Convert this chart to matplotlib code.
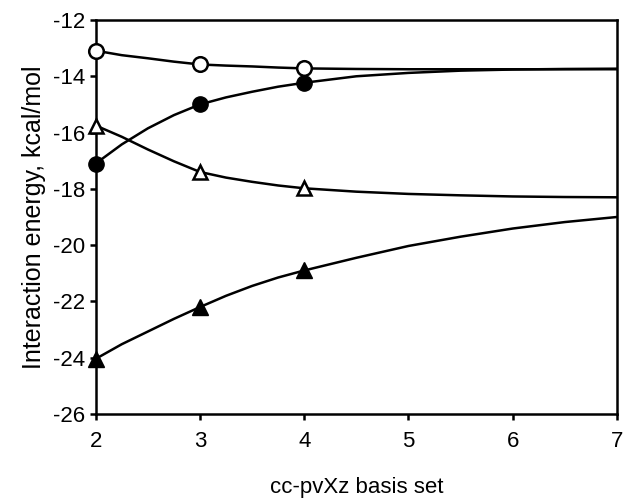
import matplotlib
matplotlib.use("Agg")
import matplotlib.pyplot as plt

plt.rcParams['font.family'] = ['Liberation Sans', 'DejaVu Sans']
plt.rcParams['axes.unicode_minus'] = False

# computed basis sets (cardinal number X)
basis_x = [2, 3, 4]
open_circle = [-13.09, -13.58, -13.72]
filled_circle = [-17.1, -15.0, -14.23]
open_triangle = [-15.75, -17.4, -17.98]
filled_triangle = [-24.04, -22.2, -20.9]

# fitted curves
curve_x = [2, 2.25, 2.5, 2.75, 3, 3.25, 3.5, 3.75, 4, 4.5, 5, 5.5, 6, 6.5, 7]
curve_open_circle = [-13.09, -13.25, -13.36, -13.48, -13.58, -13.62, -13.65, -13.69, -13.72,
                     -13.74, -13.75, -13.75, -13.75, -13.75, -13.75]
curve_filled_circle = [-17.1, -16.42, -15.85, -15.38, -15.0, -14.75, -14.55, -14.37, -14.23,
                       -14.0, -13.88, -13.8, -13.76, -13.74, -13.73]
curve_open_triangle = [-15.75, -16.15, -16.6, -17.02, -17.4, -17.6, -17.75, -17.88, -17.98,
                       -18.1, -18.18, -18.23, -18.27, -18.29, -18.3]
curve_filled_triangle = [-24.04, -23.52, -23.07, -22.62, -22.2, -21.8, -21.45, -21.15, -20.9,
                         -20.45, -20.03, -19.7, -19.41, -19.18, -19.0]

fig = plt.figure(figsize=(6.34, 5.0), dpi=100)
ax = fig.add_axes([0.151, 0.172, 0.822, 0.788])

for cy in [curve_open_circle, curve_filled_circle, curve_open_triangle, curve_filled_triangle]:
    ax.plot(curve_x, cy, color='black', lw=1.8, zorder=2, solid_capstyle='round', solid_joinstyle='round')

ax.plot(basis_x, open_circle, 'o', ms=10.5, mfc='white', mec='black', mew=1.8, ls='none', zorder=3, clip_on=False)
ax.plot(basis_x, filled_circle, 'o', ms=11, mfc='black', mec='black', ls='none', zorder=3, clip_on=False)
ax.plot(basis_x, open_triangle, '^', ms=10.5, mfc='white', mec='black', mew=1.8, ls='none', zorder=3, clip_on=False)
ax.plot(basis_x, filled_triangle, '^', ms=11.5, mfc='black', mec='black', ls='none', zorder=3, clip_on=False)

ax.set_xlim(2, 7)
ax.set_ylim(-26, -12)
ax.set_xticks([2, 3, 4, 5, 6, 7])
ax.set_yticks(range(-26, -11, 2))
ax.tick_params(direction='out', length=4.5, width=1.8, labelsize=16)
ax.tick_params(axis='x', pad=8)
ax.tick_params(axis='y', pad=3)
for s in ax.spines.values():
    s.set_linewidth(1.8)

ax.set_xlabel('cc-pvXz basis set', fontsize=16, labelpad=18)
ax.set_ylabel('Interaction energy, kcal/mol', fontsize=18, labelpad=5)

fig.savefig('out.png', dpi=100)
